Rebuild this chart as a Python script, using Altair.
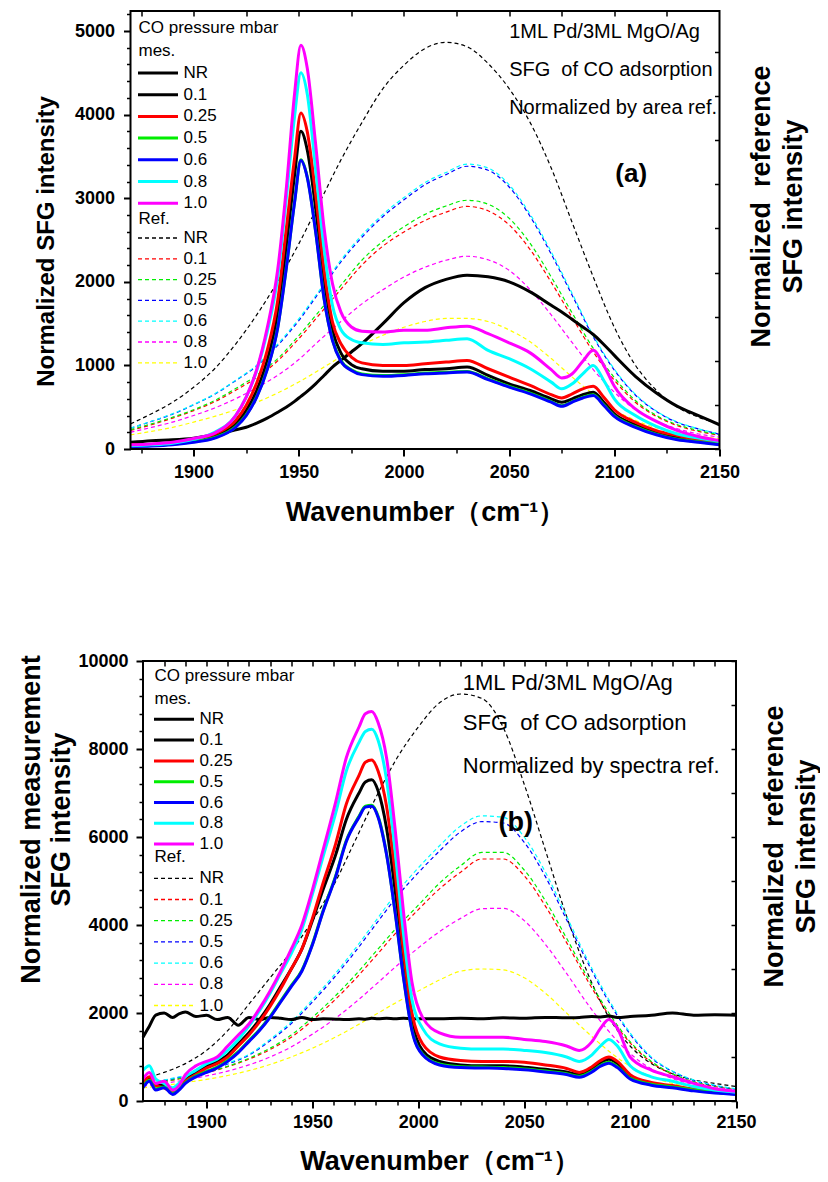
import altair as alt
import pandas as pd

FONT = "Liberation Sans"

# ---------------- panel (a) : normalized by area ref ----------------
XA = [1870, 1880, 1890, 1900, 1910, 1920, 1925, 1930, 1935, 1940,
      1944, 1948, 1951, 1954, 1958, 1962, 1966, 1970, 1975, 1980,
      1990, 2000, 2010, 2020, 2030, 2040, 2050, 2060, 2070, 2075,
      2080, 2085, 2090, 2095, 2100, 2110, 2120, 2130, 2140, 2150]
A_MES_NR = [80, 100, 110, 130, 170, 230, 260, 310, 370, 440,
            500, 570, 630, 690, 780, 880, 980, 1060, 1160, 1260,
            1500, 1750, 1930, 2030, 2080, 2060, 2000, 1880, 1720, 1640,
            1550, 1460, 1370, 1250, 1120, 870, 670, 510, 400, 290]
A_MES_01 = [45, 50, 65, 100, 160, 300, 460, 700, 1060, 1620,
            2400, 3280, 3800, 3580, 2880, 2000, 1420, 1150, 1010, 960,
            930, 930, 950, 960, 980, 880, 780, 700, 600, 560,
            600, 650, 680, 560, 420, 290, 200, 140, 100, 70]
A_MES_025 = [50, 55, 75, 115, 180, 340, 520, 790, 1180, 1780,
             2620, 3480, 4020, 3800, 3050, 2150, 1520, 1260, 1100, 1030,
             1000, 1000, 1020, 1040, 1060, 960, 860, 760, 650, 610,
             660, 720, 750, 620, 470, 320, 220, 160, 110, 80]
A_MES_05 = [38, 43, 58, 88, 138, 268, 408, 628, 958, 1460,
            2160, 2960, 3460, 3260, 2610, 1810, 1310, 1060, 948, 898,
            878, 888, 908, 918, 928, 838, 748, 668, 568, 518,
            568, 618, 648, 528, 398, 268, 178, 118, 88, 58]
A_MES_06 = [30, 35, 50, 80, 130, 260, 400, 620, 950, 1450,
            2150, 2950, 3450, 3250, 2600, 1800, 1300, 1050, 940, 890,
            870, 880, 900, 910, 920, 830, 740, 660, 560, 510,
            560, 610, 640, 520, 390, 260, 170, 110, 80, 50]
A_MES_08 = [40, 50, 70, 115, 200, 400, 620, 940, 1400, 2060,
            2980, 3980, 4500, 4250, 3350, 2400, 1720, 1430, 1310, 1270,
            1250, 1270, 1280, 1300, 1320, 1180, 1080, 960, 800, 720,
            780, 900, 1000, 820, 600, 400, 270, 180, 130, 90]
A_MES_10 = [50, 60, 80, 125, 190, 400, 620, 950, 1450, 2150,
            3100, 4250, 4830, 4560, 3650, 2650, 1980, 1640, 1460, 1410,
            1400, 1420, 1420, 1450, 1470, 1380, 1270, 1150, 950, 850,
            900, 1050, 1180, 1000, 750, 480, 330, 220, 150, 100]

XD = [1870, 1880, 1890, 1900, 1910, 1920, 1930, 1940, 1950, 1960,
      1970, 1980, 1990, 2000, 2010, 2020, 2030, 2040, 2050, 2060,
      2070, 2080, 2090, 2100, 2110, 2120, 2130, 2140, 2150]
A_REF_NR = [570, 800, 1060, 1400, 1820, 2380, 3040, 3800, 4650, 5600,
            6550, 7400, 8170, 8700, 9080, 9220, 9120, 8740, 8170, 7400,
            6370, 5130, 3900, 2760, 1900, 1330, 950, 720, 570]
A_REF_01 = [420, 550, 700, 870, 1070, 1330, 1620, 2000, 2500, 3060,
            3620, 4170, 4600, 4920, 5180, 5370, 5500, 5400, 5080, 4520,
            3780, 2980, 2200, 1560, 1060, 740, 530, 400, 310]
A_REF_025 = [440, 570, 720, 890, 1100, 1370, 1670, 2050, 2570, 3140,
             3710, 4280, 4710, 5040, 5320, 5510, 5640, 5550, 5230, 4660,
             3900, 3080, 2280, 1620, 1100, 760, 550, 420, 320]
A_REF_05 = [470, 625, 790, 1000, 1240, 1550, 1880, 2350, 2910, 3570,
            4240, 4800, 5270, 5650, 5990, 6220, 6410, 6320, 5940, 5270,
            4420, 3480, 2540, 1790, 1225, 850, 600, 455, 335]
A_REF_06 = [475, 630, 800, 1010, 1250, 1560, 1900, 2380, 2950, 3610,
            4280, 4850, 5320, 5700, 6040, 6270, 6460, 6370, 5990, 5320,
            4470, 3520, 2570, 1810, 1240, 860, 610, 460, 340]
A_REF_08 = [380, 490, 610, 760, 930, 1140, 1390, 1670, 2030, 2470,
            2890, 3290, 3610, 3900, 4120, 4280, 4370, 4290, 4050, 3610,
            3040, 2410, 1800, 1290, 890, 630, 460, 340, 270]
A_REF_10 = [320, 400, 490, 610, 740, 890, 1060, 1270, 1520, 1800,
            2090, 2360, 2580, 2760, 2890, 2960, 2960, 2890, 2700, 2430,
            2050, 1630, 1240, 890, 650, 480, 360, 290, 230]

# ---------------- panel (b) : normalized by spectra ref ----------------
XB = [1870, 1873, 1876, 1880, 1884, 1887, 1890, 1895,
      1900, 1905, 1910, 1915, 1920, 1925, 1930, 1935, 1940, 1945,
      1950, 1955, 1961, 1966, 1972, 1975, 1978, 1981,
      1985, 1989, 1993, 1997, 2002,
      2010, 2020, 2030, 2040, 2050, 2060, 2070,
      2076, 2082, 2086, 2090, 2094, 2100,
      2110, 2120, 2130, 2140, 2150]
B_MES_NR = [1450, 1700, 1950, 2000, 1900, 1980, 2020, 1920,
            1950, 1850, 1900, 1720, 1900, 1850, 1900, 1880, 1850, 1900,
            1850, 1870, 1860, 1850, 1870, 1860, 1880, 1870,
            1880, 1870, 1880, 1870, 1870,
            1870, 1880, 1870, 1890, 1880, 1900, 1890,
            1900, 1920, 1910, 1930, 1900, 1920,
            1950, 2000, 1950, 1960, 1950]
B_MES_01 = [450, 500, 350, 350, 250, 300, 500, 650,
            800, 900, 1050, 1300, 1550, 1850, 2200, 2600, 3000, 3450,
            4100, 4800, 5600, 6400, 7000, 7250, 7300, 7050,
            6200, 4800, 3100, 1800, 1150,
            900, 820, 800, 800, 770, 720, 660,
            600, 730, 870, 950, 850, 560,
            400, 330, 250, 200, 160]
B_MES_025 = [400, 550, 350, 300, 200, 300, 450, 600,
             750, 850, 1000, 1250, 1500, 1800, 2150, 2550, 3000, 3450,
             4150, 4950, 5850, 6750, 7400, 7700, 7750, 7500,
             6700, 5200, 3400, 2000, 1300,
             1000, 920, 900, 900, 880, 820, 740,
             650, 780, 920, 1000, 900, 600,
             420, 350, 270, 210, 170]
B_MES_05 = [320, 470, 270, 320, 170, 270, 420, 570,
            670, 770, 920, 1120, 1370, 1620, 1920, 2270, 2620, 2970,
            3570, 4320, 5120, 5920, 6470, 6700, 6720, 6470,
            5620, 4320, 2820, 1620, 1070,
            840, 780, 770, 760, 730, 680, 620,
            560, 680, 810, 880, 780, 520,
            380, 320, 250, 200, 170]
B_MES_06 = [300, 450, 250, 300, 150, 250, 400, 550,
            650, 750, 900, 1100, 1350, 1600, 1900, 2250, 2600, 2950,
            3550, 4300, 5100, 5900, 6450, 6680, 6700, 6450,
            5600, 4300, 2800, 1600, 1050,
            820, 760, 750, 740, 710, 660, 600,
            540, 660, 790, 860, 760, 500,
            360, 300, 230, 180, 150]
B_MES_08 = [700, 800, 500, 400, 300, 400, 550, 700,
            850, 950, 1150, 1400, 1700, 2050, 2450, 2900, 3350, 3900,
            4700, 5550, 6550, 7500, 8150, 8400, 8450, 8200,
            7300, 5700, 3800, 2300, 1650,
            1300, 1200, 1180, 1180, 1150, 1100, 1000,
            900, 1050, 1250, 1400, 1250, 800,
            550, 450, 330, 250, 200]
B_MES_10 = [500, 650, 400, 450, 250, 350, 600, 800,
            900, 1000, 1250, 1500, 1750, 2100, 2500, 2950, 3450, 4000,
            4800, 5700, 6800, 7800, 8500, 8800, 8850, 8600,
            7800, 6200, 4300, 2700, 1900,
            1550, 1450, 1450, 1450, 1400, 1350, 1250,
            1150, 1350, 1650, 1850, 1650, 1000,
            700, 550, 400, 280, 220]

B_REF_NR = [500, 650, 850, 1150, 1600, 2200, 2800, 3400, 4100, 4900,
            5900, 6900, 7800, 8500, 9050, 9250, 9150, 8500, 7200, 5700,
            4200, 2900, 1900, 1250, 850, 620, 480, 400, 330]
B_REF_01 = [370, 440, 530, 640, 780, 950, 1170, 1450, 1830, 2270,
            2760, 3300, 3850, 4350, 4820, 5200, 5500, 5500, 5120, 4430,
            3600, 2730, 1950, 1320, 880, 600, 430, 330, 260]
B_REF_025 = [380, 450, 540, 650, 790, 970, 1200, 1500, 1900, 2350,
             2850, 3400, 3950, 4450, 4950, 5350, 5650, 5650, 5250, 4550,
             3700, 2800, 2000, 1350, 900, 620, 440, 340, 270]
B_REF_05 = [390, 470, 570, 690, 840, 1040, 1370, 1760, 2250, 2790,
            3380, 4020, 4650, 5190, 5680, 6120, 6350, 6320, 5880, 5100,
            4120, 3140, 2250, 1520, 980, 670, 470, 350, 270]
B_REF_06 = [400, 480, 580, 700, 860, 1060, 1400, 1800, 2300, 2850,
            3450, 4100, 4750, 5300, 5800, 6250, 6480, 6450, 6000, 5200,
            4200, 3200, 2300, 1550, 1000, 680, 480, 360, 280]
B_REF_08 = [340, 400, 480, 570, 680, 820, 1000, 1230, 1520, 1850,
            2230, 2650, 3080, 3480, 3850, 4150, 4370, 4380, 4100, 3560,
            2900, 2200, 1580, 1080, 730, 510, 380, 300, 240]
B_REF_10 = [300, 350, 420, 490, 580, 690, 830, 1000, 1200, 1430,
            1690, 1970, 2250, 2500, 2750, 2950, 3000, 2980, 2800, 2450,
            2000, 1550, 1130, 790, 550, 400, 310, 250, 210]

# ---------------- legend keys / colours / texts ----------------
KEYS = ["NR", "0.1", "0.25", "0.5", "0.6", "0.8", "1.0"]
MES_COLORS = ["#000000", "#000000", "#ff0000", "#00ee00", "#0000ff", "#00ffff", "#ff00ff"]
REF_COLORS = ["#000000", "#ff0000", "#00ee00", "#0000ff", "#00ffff", "#ff00ff", "#ffff00"]

NOTES_A = ["1ML Pd/3ML MgO/Ag", "SFG\u00a0 of CO adsorption", "Normalized by area ref."]
NOTES_B = ["1ML Pd/3ML MgO/Ag", "SFG\u00a0 of CO adsorption", "Normalized by spectra ref."]
X_TITLE = "Wavenumber（cm⁻¹）"
RIGHT_TITLE = ["Normalized\u00a0 reference", "SFG intensity"]
LEFT_TITLE_A = "Normalized SFG intensity"
LEFT_TITLE_B = ["Normalized measurement", "SFG intensity"]

LINE_SYMBOL = "M-1.8,0H6.2"   # horizontal legend line, 8 units long


def long_table(xs, series):
    rows = []
    for key, vals in zip(KEYS, series):
        for x, v in zip(xs, vals):
            rows.append({"w": x, "v": v, "s": key})
    return pd.DataFrame(rows)


def panel(cfg):
    sh = cfg["shift"]            # left inset of the plot frame inside the view
    vw = cfg["w"] + sh           # view width
    xs = alt.Scale(domain=[1870, 2150], nice=False, zero=False, range=[sh, vw])

    def ysc(m):
        return alt.Scale(domain=[0, m], nice=False, zero=False)

    legend_common = dict(
        orient="none", legendX=cfg["legx"] + sh, symbolType=LINE_SYMBOL, symbolSize=100,
        labelFontSize=17, titleFontSize=17, titleFontWeight="normal",
        labelOffset=28, padding=0,
    )

    ref = alt.Chart(long_table(XD, cfg["ref"])).mark_line(
        strokeWidth=1.2, strokeDash=[4, 3], interpolate="monotone", clip=True
    ).encode(
        x=alt.X("w:Q", scale=xs, axis=alt.Axis(
            orient="bottom", values=cfg["xminor"], tickSize=4, tickWidth=1.5,
            labels=False, domain=False, grid=False, title=None)),
        y=alt.Y("v:Q", scale=ysc(cfg["rmax"]), axis=alt.Axis(
            orient="right", values=cfg["rticks"], tickSize=5, tickWidth=1.5, offset=-5,
            labels=False, domain=False, grid=False, title=RIGHT_TITLE,
            titleAngle=270, titleAlign="center", titleBaseline="middle",
            titleX=cfg["rtx"], titleY=cfg["rty"], titleFontSize=27,
            titleFontWeight="bold", titleLineHeight=cfg["rlh"])),
        color=alt.Color("s:N", scale=alt.Scale(domain=KEYS, range=REF_COLORS),
                        legend=alt.Legend(
                            title="Ref.", legendY=cfg["refy"], symbolStrokeWidth=1.3,
                            symbolDash=[4, 3], rowPadding=cfg["refrow"],
                            titlePadding=cfg["reftp"], **legend_common)),
    )

    mes = alt.Chart(long_table(cfg["mx"], cfg["mes"])).mark_line(
        strokeWidth=3, interpolate="monotone", clip=True
    ).encode(
        x=alt.X("w:Q", scale=xs, axis=alt.Axis(
            orient="bottom", values=[1900, 1950, 2000, 2050, 2100, 2150], format="d",
            tickSize=7, tickWidth=2, labelFontSize=18, labelFontWeight="bold",
            labelPadding=cfg["xlpad"], labelFlush=False, domain=False, grid=False,
            title=X_TITLE, titleFontSize=27, titleFontWeight="bold",
            titlePadding=cfg["xtpad"], titleX=sh + cfg["w"] / 2)),
        y=alt.Y("v:Q", scale=ysc(cfg["ymax"]), axis=alt.Axis(
            orient="left", offset=-sh, values=cfg["ymajor"], format="d", tickSize=7,
            tickWidth=2, labelFontSize=18, labelFontWeight="bold",
            labelPadding=cfg["ylpad"], labelFlush=False, domain=False, grid=False,
            title=cfg["ltitle"], titleAngle=270, titleAlign="center",
            titleBaseline="middle", titleX=cfg["ltx"], titleY=cfg["lty"],
            titleFontSize=cfg["lsize"], titleFontWeight="bold", titleLineHeight=30)),
        color=alt.Color("s:N", scale=alt.Scale(domain=KEYS, range=MES_COLORS),
                        legend=alt.Legend(
                            title=["CO pressure mbar", "mes."], legendY=cfg["mesy"],
                            symbolStrokeWidth=3, titleLineHeight=23,
                            rowPadding=cfg["mesrow"], titlePadding=cfg["mestp"],
                            **legend_common)),
    )

    notes_df = pd.DataFrame({"t": cfg["notes"], "x": [cfg["notex"]] * 3, "y": cfg["notey"]})
    notes = alt.Chart(notes_df).mark_text(
        align="left", baseline="middle", fontSize=cfg["notefs"], font=FONT, color="black"
    ).encode(
        x=alt.X("x:Q", scale=xs, axis=alt.Axis(
            orient="top", values=cfg["xtop"], tickSize=5, tickWidth=1.5, offset=-5,
            labels=False, domain=False, grid=False, title=None)),
        y=alt.Y("y:Q", scale=ysc(cfg["ymax"]), axis=alt.Axis(
            orient="left", offset=-sh, values=cfg["yminor"], tickSize=4, tickWidth=1.5,
            labels=False, domain=False, grid=False, title=None)),
        text="t:N",
    )

    tag_df = pd.DataFrame({"t": [cfg["tag"]], "x": [cfg["tagx"]], "y": [cfg["tagy"]]})
    tag = alt.Chart(tag_df).mark_text(
        align="center", baseline="middle", fontSize=cfg["tagfs"], fontWeight="bold",
        font=FONT, color="black"
    ).encode(
        x=alt.X("x:Q", scale=xs, axis=None),
        y=alt.Y("y:Q", scale=ysc(cfg["ymax"]), axis=None),
        text="t:N",
    )

    # plot frame (the view itself is wider than the frame when sh > 0)
    frame = alt.Chart(pd.DataFrame({"f": [0]})).mark_rect(
        fillOpacity=0, stroke="black", strokeWidth=2
    ).encode(
        x=alt.value(sh), x2=alt.value(vw), y=alt.value(0), y2=alt.value(cfg["h"])
    )

    return alt.layer(ref, mes, notes, tag, frame).resolve_scale(
        y="independent", color="independent"
    ).resolve_axis(x="independent").properties(
        width=vw, height=cfg["h"], view=alt.ViewBackground(stroke="transparent")
    )


CFG_A = dict(
    shift=0,
    mx=XA,
    mes=[A_MES_NR, A_MES_01, A_MES_025, A_MES_05, A_MES_06, A_MES_08, A_MES_10],
    ref=[A_REF_NR, A_REF_01, A_REF_025, A_REF_05, A_REF_06, A_REF_08, A_REF_10],
    ymax=5240, rmax=9930,
    ymajor=[0, 1000, 2000, 3000, 4000, 5000],
    yminor=[v for v in range(200, 5240, 200) if v % 1000],
    xminor=[1875, 1925, 1975, 2025, 2075, 2125],
    xtop=list(range(1875, 2150, 25)),
    rticks=list(range(0, 9930, 1000)),
    ltitle=LEFT_TITLE_A, lsize=24, ltx=-84.5, lty=230,
    rtx=46.5, rty=195, rlh=32,
    xlpad=7, ylpad=9, xtpad=18,
    notes=NOTES_A, notex=2050, notey=[4990, 4530, 4080], notefs=20,
    tag="(a)", tagx=2108, tagy=3290, tagfs=26,
    legx=8, mesy=8.5, refy=199.5, mesrow=3.7, refrow=2.8, mestp=5, reftp=2,
    w=589, h=438,
)

CFG_B = dict(
    shift=12.5,
    mx=XB,
    mes=[B_MES_NR, B_MES_01, B_MES_025, B_MES_05, B_MES_06, B_MES_08, B_MES_10],
    ref=[B_REF_NR, B_REF_01, B_REF_025, B_REF_05, B_REF_06, B_REF_08, B_REF_10],
    ymax=10000, rmax=10000,
    ymajor=[0, 2000, 4000, 6000, 8000, 10000],
    yminor=[v for v in range(400, 10000, 400) if v % 2000],
    xminor=[v for v in range(1880, 2150, 10) if v % 50],
    xtop=list(range(1880, 2150, 10)),
    rticks=list(range(0, 10001, 1000)),
    ltitle=LEFT_TITLE_B, lsize=27, ltx=-112, lty=158,
    rtx=43, rty=185, rlh=32,
    xlpad=5, ylpad=8, xtpad=17.5,
    notes=NOTES_B, notex=2021, notey=[9490, 8584, 7610], notefs=22,
    tag="(b)", tagx=2046, tagy=6320, tagfs=27,
    legx=11.5, mesy=6.8, refy=187.8, mesrow=2.8, refrow=3.2, mestp=3, reftp=4,
    w=593, h=440,
)

chart = alt.vconcat(panel(CFG_A), panel(CFG_B), spacing=125).resolve_scale(
    color="independent"
).properties(
    padding={"left": 8.5, "top": 1, "right": 0, "bottom": 0}
).configure(font=FONT).configure_view(
    stroke="transparent"
).configure_axis(
    labelFont=FONT, titleFont=FONT, labelColor="black", titleColor="black", tickColor="black"
).configure_legend(
    labelFont=FONT, titleFont=FONT, labelColor="black", titleColor="black"
)

chart.save("out.html", embed_options={"renderer": "svg", "actions": False})
